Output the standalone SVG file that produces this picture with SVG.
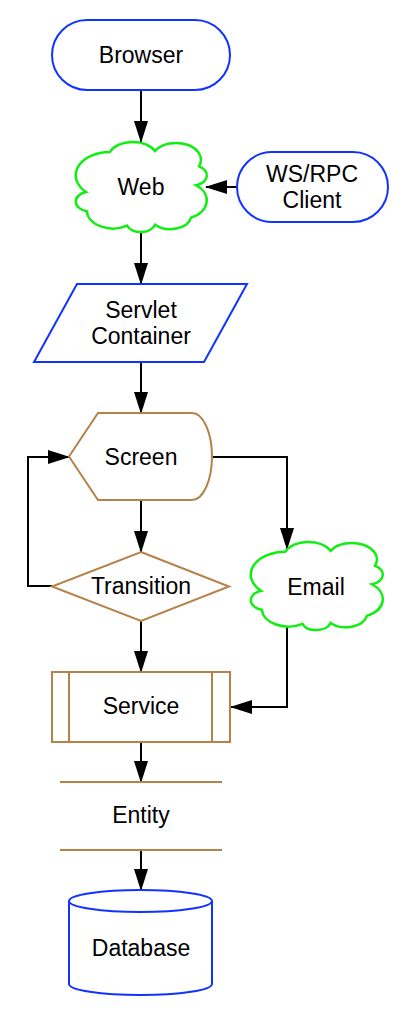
<svg xmlns="http://www.w3.org/2000/svg" width="415" height="1017" viewBox="0 0 415 1017">
<style>
text{font-family:"Liberation Sans",Arial,sans-serif;font-size:23px;fill:#000;text-anchor:middle}
.blue{fill:#fff;stroke:#1133ff;stroke-width:2}
.green{fill:#fff;stroke:#11ee11;stroke-width:2.5}
.brown{fill:#fff;stroke:#b5824a;stroke-width:2}
.conn{fill:none;stroke:#000;stroke-width:2}
</style>
<defs>
<marker id="arr" markerWidth="22" markerHeight="14" refX="21" refY="7" orient="auto" markerUnits="userSpaceOnUse">
<path d="M0,0 L22,7 L0,14 z" fill="#000"/>
</marker>
<path id="cloud" vector-effect="non-scaling-stroke" d="M26.5,11 A19,19 0 0 1 60.6,10 A18.8,18.8 0 0 1 94,27 A11.5,11.5 0 0 1 91.7,48 A21.4,21.4 0 0 1 87.9,84 A16.1,16.1 0 0 1 60.6,92 A11.2,11.2 0 0 1 39.4,93 A19.8,19.8 0 0 1 9,77 A11.2,11.2 0 0 1 8.3,55.5 A26,26 0 0 1 26.5,11 Z"/>
</defs>
<rect width="415" height="1017" fill="#fff"/>
<g id="connectors">
<line class="conn" x1="141" y1="90" x2="141" y2="142" marker-end="url(#arr)"/>
<line class="conn" x1="237" y1="187" x2="206" y2="187" marker-end="url(#arr)"/>
<line class="conn" x1="141" y1="232" x2="141" y2="284" marker-end="url(#arr)"/>
<line class="conn" x1="141" y1="362" x2="141" y2="413" marker-end="url(#arr)"/>
<line class="conn" x1="141" y1="500" x2="141" y2="552" marker-end="url(#arr)"/>
<polyline class="conn" points="52,586 28,586 28,457 69,457" marker-end="url(#arr)"/>
<polyline class="conn" points="212,457 287,457 287,549" marker-end="url(#arr)"/>
<line class="conn" x1="141" y1="621" x2="141" y2="672" marker-end="url(#arr)"/>
<polyline class="conn" points="287,623 287,707 231,707" marker-end="url(#arr)"/>
<line class="conn" x1="141" y1="742" x2="141" y2="782" marker-end="url(#arr)"/>
<line class="conn" x1="141" y1="850" x2="141" y2="890" marker-end="url(#arr)"/>
</g>
<g id="browser">
<rect class="blue" x="52" y="20" width="178" height="70" rx="35" ry="35"/>
<text x="141" y="63">Browser</text>
</g>
<g id="web">
<use href="#cloud" class="green" transform="translate(75,142) scale(1.32,0.9)"/>
<text x="141" y="195">Web</text>
</g>
<g id="wsrpc">
<rect class="blue" x="237" y="152" width="151" height="70" rx="35" ry="35"/>
<text x="312" y="182">WS/RPC</text>
<text x="312" y="208">Client</text>
</g>
<g id="servlet">
<polygon class="blue" points="77,284 247,284 204,362 34,362"/>
<text x="141" y="318">Servlet</text>
<text x="141" y="344">Container</text>
</g>
<g id="screen">
<path class="brown" d="M98,413 L192,413 A20,43.5 0 0 1 212,456.5 A20,43.5 0 0 1 192,500 L98,500 L69,456.5 Z"/>
<text x="141" y="465">Screen</text>
</g>
<g id="transition">
<polygon class="brown" points="141,552 229,586.5 141,621 52,586.5"/>
<text x="141" y="594">Transition</text>
</g>
<g id="email">
<use href="#cloud" class="green" transform="translate(250,542) scale(1.33,0.88)"/>
<text x="316" y="595">Email</text>
</g>
<g id="service">
<rect class="brown" x="52" y="672" width="178" height="70"/>
<line class="brown" x1="69" y1="672" x2="69" y2="742"/>
<line class="brown" x1="212" y1="672" x2="212" y2="742"/>
<text x="141" y="714">Service</text>
</g>
<g id="entity">
<line class="brown" x1="60" y1="782" x2="222" y2="782"/>
<line class="brown" x1="60" y1="850" x2="222" y2="850"/>
<text x="141" y="823">Entity</text>
</g>
<g id="database">
<path class="blue" d="M69,901 A71.5,11 0 0 1 212,901 L212,984 A71.5,11 0 0 1 69,984 Z"/>
<path class="blue" fill="none" d="M69,901 A71.5,11 0 0 0 212,901"/>
<text x="141" y="956">Database</text>
</g>
</svg>
